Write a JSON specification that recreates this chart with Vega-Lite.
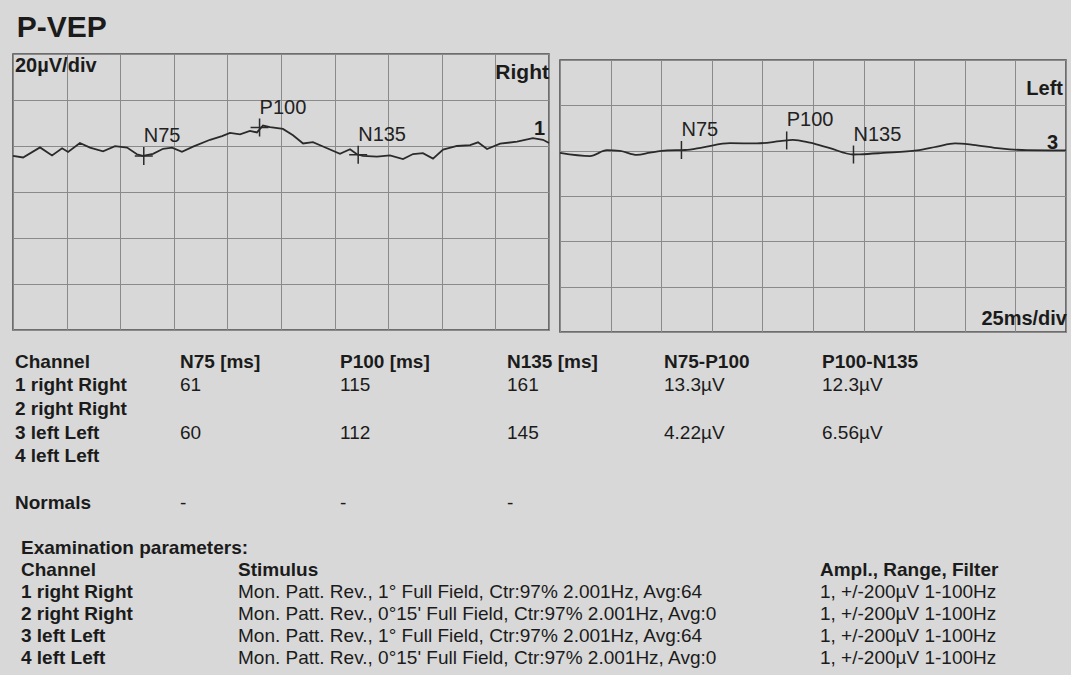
{
  "$schema": "https://vega.github.io/schema/vega-lite/v6.json",
  "background": "#d8d8d8",
  "padding": {"left": 8, "top": 13, "right": 0, "bottom": 0},
  "title": {"text": "P-VEP", "anchor": "start", "fontSize": 30, "fontWeight": "bold", "font": "Liberation Sans", "color": "#1b1b1b", "offset": 10, "dx": 8},
  "datasets": {
    "ch1": [
      {"t": 0, "v": -4.3}, {"t": 4.7, "v": -5.0}, {"t": 12.6, "v": -0.6}, {"t": 18.2, "v": -4.1}, {"t": 22.9, "v": -1.0},
      {"t": 25.7, "v": -2.6}, {"t": 31.2, "v": 1.3}, {"t": 35.9, "v": -0.7}, {"t": 42, "v": -2.3}, {"t": 47.6, "v": -0.1},
      {"t": 53.2, "v": -0.7}, {"t": 57.8, "v": -3.6}, {"t": 60.6, "v": -4.3}, {"t": 65.3, "v": -3.4}, {"t": 70, "v": -1.2},
      {"t": 74.2, "v": -0.7}, {"t": 78.8, "v": -2.5}, {"t": 84, "v": -0.3}, {"t": 91.9, "v": 2.7}, {"t": 97.5, "v": 4.3},
      {"t": 101.2, "v": 5.7}, {"t": 105.9, "v": 5.1}, {"t": 110.5, "v": 6.6}, {"t": 113.8, "v": 5.9}, {"t": 116.6, "v": 8.9},
      {"t": 119.9, "v": 8.2}, {"t": 125.9, "v": 7.4}, {"t": 130.6, "v": 4.7}, {"t": 135.3, "v": 1.1}, {"t": 139.9, "v": 1.7},
      {"t": 144.6, "v": -0.2}, {"t": 152.5, "v": -3.4}, {"t": 157.2, "v": -1.4}, {"t": 160.4, "v": -3.6}, {"t": 163.2, "v": -4.3},
      {"t": 169.8, "v": -4.6}, {"t": 175.8, "v": -4.1}, {"t": 181.9, "v": -5.7}, {"t": 186.6, "v": -3.5}, {"t": 191.2, "v": -3.1},
      {"t": 195.9, "v": -5.5}, {"t": 200.6, "v": -1.6}, {"t": 207.1, "v": 0}, {"t": 213.2, "v": 0.4}, {"t": 216.9, "v": 1.6},
      {"t": 221.1, "v": -1.3}, {"t": 227.2, "v": 1.0}, {"t": 235.1, "v": 1.9}, {"t": 242.5, "v": 3.4}, {"t": 247.2, "v": 2.7},
      {"t": 250, "v": 1.3}
    ],
    "ch3": [
      {"t": 0, "v": -1.0}, {"t": 14.8, "v": -2.4}, {"t": 23.2, "v": 0.2}, {"t": 29.6, "v": -0.1}, {"t": 38, "v": -1.9},
      {"t": 44.5, "v": -0.9}, {"t": 52.9, "v": 0.1}, {"t": 61.8, "v": 0.3}, {"t": 70.7, "v": 1.5}, {"t": 84, "v": 3.3},
      {"t": 97.3, "v": 3.2}, {"t": 108.7, "v": 4.2}, {"t": 115.1, "v": 4.8}, {"t": 123.5, "v": 3.5}, {"t": 133.4, "v": 1.1},
      {"t": 144.8, "v": -1.7}, {"t": 148.2, "v": -1.6}, {"t": 159.6, "v": -1.0}, {"t": 176.4, "v": 0.1}, {"t": 186.3, "v": 1.8},
      {"t": 195.2, "v": 3.2}, {"t": 204, "v": 2.6}, {"t": 217.4, "v": 1.0}, {"t": 230.7, "v": 0.2}, {"t": 248, "v": 0.1},
      {"t": 250, "v": 0.1}
    ],
    "peaks1": [
      {"t": 61, "v": -4.3, "peak": "N75"},
      {"t": 115, "v": 8.0, "peak": "P100"},
      {"t": 161, "v": -3.8, "peak": "N135"}
    ],
    "peaks3": [
      {"t": 60, "v": 0.3, "peak": "N75"},
      {"t": 112, "v": 4.5, "peak": "P100"},
      {"t": 145, "v": -1.7, "peak": "N135"}
    ],
    "results": [
      {"channel": "Channel", "n75": "N75 [ms]", "p100": "P100 [ms]", "n135": "N135 [ms]", "a1": "N75-P100", "a2": "P100-N135", "header": true},
      {"channel": "1 right Right", "n75": "61", "p100": "115", "n135": "161", "a1": "13.3µV", "a2": "12.3µV", "header": false},
      {"channel": "2 right Right", "n75": "", "p100": "", "n135": "", "a1": "", "a2": "", "header": false},
      {"channel": "3 left Left", "n75": "60", "p100": "112", "n135": "145", "a1": "4.22µV", "a2": "6.56µV", "header": false},
      {"channel": "4 left Left", "n75": "", "p100": "", "n135": "", "a1": "", "a2": "", "header": false},
      {"channel": "Normals", "n75": "-", "p100": "-", "n135": "-", "a1": "", "a2": "", "header": false}
    ],
    "params": [
      {"channel": "Examination parameters:", "stimulus": "", "ampl": "", "header": true},
      {"channel": "Channel", "stimulus": "Stimulus", "ampl": "Ampl., Range, Filter", "header": true},
      {"channel": "1 right Right", "stimulus": "Mon. Patt. Rev., 1° Full Field, Ctr:97% 2.001Hz, Avg:64", "ampl": "1, +/-200µV 1-100Hz", "header": false},
      {"channel": "2 right Right", "stimulus": "Mon. Patt. Rev., 0°15' Full Field, Ctr:97% 2.001Hz, Avg:0", "ampl": "1, +/-200µV 1-100Hz", "header": false},
      {"channel": "3 left Left", "stimulus": "Mon. Patt. Rev., 1° Full Field, Ctr:97% 2.001Hz, Avg:64", "ampl": "1, +/-200µV 1-100Hz", "header": false},
      {"channel": "4 left Left", "stimulus": "Mon. Patt. Rev., 0°15' Full Field, Ctr:97% 2.001Hz, Avg:0", "ampl": "1, +/-200µV 1-100Hz", "header": false}
    ]
  },
  "spacing": 18,
  "vconcat": [
    {
      "bounds": "flush",
      "spacing": 11,
      "hconcat": [
        {
          "width": 536,
          "height": 276,
          "view": {"stroke": "#4a4a4a", "strokeWidth": 1.5},
          "layer": [
            {"data": {"name": "ch1"}, "mark": {"type": "line", "color": "#2a2a2a", "strokeWidth": 1.8, "interpolate": "linear"},
             "encoding": {
               "x": {"field": "t", "type": "quantitative", "scale": {"domain": [0, 250], "nice": false, "zero": false},
                     "axis": {"values": [0, 25, 50, 75, 100, 125, 150, 175, 200, 225, 250], "grid": true, "gridColor": "#8a8a8a", "gridWidth": 1, "labels": false, "ticks": false, "tickSize": 0, "labelPadding": 0, "minExtent": 0, "offset": 0, "domain": false, "title": null}},
               "y": {"field": "v", "type": "quantitative", "scale": {"domain": [-80, 40], "nice": false, "zero": false},
                     "axis": {"values": [-80, -60, -40, -20, 0, 20, 40], "grid": true, "gridColor": "#8a8a8a", "gridWidth": 1, "labels": false, "ticks": false, "tickSize": 0, "labelPadding": 0, "minExtent": 0, "offset": 0, "domain": false, "title": null}}
             }},
            {"data": {"name": "peaks1"}, "mark": {"type": "point", "shape": "M-1,0L1,0M0,-1L0,1", "size": 324, "filled": false, "stroke": "#2a2a2a", "strokeWidth": 1.5, "opacity": 1},
             "encoding": {"x": {"field": "t", "type": "quantitative"}, "y": {"field": "v", "type": "quantitative"}}},
            {"data": {"name": "peaks1"}, "mark": {"type": "text", "align": "left", "baseline": "middle", "dy": -20, "fontSize": 20, "font": "Liberation Sans", "color": "#222222"},
             "encoding": {"x": {"field": "t", "type": "quantitative"}, "y": {"field": "v", "type": "quantitative"}, "text": {"field": "peak"}}},
            {"data": {"values": [{"label": "20µV/div"}]}, "mark": {"type": "text", "align": "left", "baseline": "middle", "dx": 2, "dy": 12, "fontSize": 20, "fontWeight": "bold", "font": "Liberation Sans", "color": "#1b1b1b"},
             "encoding": {"x": {"datum": 0, "type": "quantitative"}, "y": {"datum": 40, "type": "quantitative"}, "text": {"field": "label", "type": "nominal"}}},
            {"data": {"values": [{"label": "Right"}]}, "mark": {"type": "text", "align": "right", "baseline": "middle", "dx": 0, "dy": 19, "fontSize": 21, "fontWeight": "bold", "font": "Liberation Sans", "color": "#1b1b1b"},
             "encoding": {"x": {"datum": 250, "type": "quantitative"}, "y": {"datum": 40, "type": "quantitative"}, "text": {"field": "label", "type": "nominal"}}},
            {"data": {"values": [{"label": "1"}]}, "mark": {"type": "text", "align": "right", "baseline": "middle", "dx": -4, "fontSize": 20, "fontWeight": "bold", "font": "Liberation Sans", "color": "#1b1b1b"},
             "encoding": {"x": {"datum": 250, "type": "quantitative"}, "y": {"datum": 7.4, "type": "quantitative"}, "text": {"field": "label", "type": "nominal"}}}
          ]
        },
        {
          "bounds": "flush",
          "spacing": 5,
          "vconcat": [
            {"width": 506, "height": 1, "data": {"values": []}, "mark": "point"},
            {
              "width": 506,
              "height": 272,
              "view": {"stroke": "#4a4a4a", "strokeWidth": 1.5},
              "layer": [
                {"data": {"name": "ch3"}, "mark": {"type": "line", "color": "#2a2a2a", "strokeWidth": 1.8, "interpolate": "monotone"},
                 "encoding": {
                   "x": {"field": "t", "type": "quantitative", "scale": {"domain": [0, 250], "nice": false, "zero": false},
                         "axis": {"values": [0, 25, 50, 75, 100, 125, 150, 175, 200, 225, 250], "grid": true, "gridColor": "#8a8a8a", "gridWidth": 1, "labels": false, "ticks": false, "tickSize": 0, "labelPadding": 0, "minExtent": 0, "offset": 0, "domain": false, "title": null}},
                   "y": {"field": "v", "type": "quantitative", "scale": {"domain": [-80, 40], "nice": false, "zero": false},
                         "axis": {"values": [-80, -60, -40, -20, 0, 20, 40], "grid": true, "gridColor": "#8a8a8a", "gridWidth": 1, "labels": false, "ticks": false, "tickSize": 0, "labelPadding": 0, "minExtent": 0, "offset": 0, "domain": false, "title": null}}
                 }},
                {"data": {"name": "peaks3"}, "mark": {"type": "point", "shape": "M0,-1L0,1", "size": 324, "filled": false, "stroke": "#2a2a2a", "strokeWidth": 1.5, "opacity": 1},
                 "encoding": {"x": {"field": "t", "type": "quantitative"}, "y": {"field": "v", "type": "quantitative"}}},
                {"data": {"name": "peaks3"}, "mark": {"type": "text", "align": "left", "baseline": "middle", "dy": -20, "fontSize": 20, "font": "Liberation Sans", "color": "#222222"},
                 "encoding": {"x": {"field": "t", "type": "quantitative"}, "y": {"field": "v", "type": "quantitative"}, "text": {"field": "peak"}}},
                {"data": {"values": [{"label": "Left"}]}, "mark": {"type": "text", "align": "right", "baseline": "middle", "dx": -3, "dy": 29, "fontSize": 20, "fontWeight": "bold", "font": "Liberation Sans", "color": "#1b1b1b"},
                 "encoding": {"x": {"datum": 250, "type": "quantitative"}, "y": {"datum": 40, "type": "quantitative"}, "text": {"field": "label", "type": "nominal"}}},
                {"data": {"values": [{"label": "3"}]}, "mark": {"type": "text", "align": "right", "baseline": "middle", "dx": -8, "fontSize": 20, "fontWeight": "bold", "font": "Liberation Sans", "color": "#1b1b1b"},
                 "encoding": {"x": {"datum": 250, "type": "quantitative"}, "y": {"datum": 3.5, "type": "quantitative"}, "text": {"field": "label", "type": "nominal"}}},
                {"data": {"values": [{"label": "25ms/div"}]}, "mark": {"type": "text", "align": "right", "baseline": "middle", "dx": 1, "dy": -13, "fontSize": 20, "fontWeight": "bold", "font": "Liberation Sans", "color": "#1b1b1b"},
                 "encoding": {"x": {"datum": 250, "type": "quantitative"}, "y": {"datum": -80, "type": "quantitative"}, "text": {"field": "label", "type": "nominal"}}}
              ]
            }
          ]
        }
      ]
    },
    {
      "bounds": "flush",
      "spacing": 0,
      "hconcat": [
        {
          "width": 167, "height": 163,
          "data": {"name": "results"},
          "mark": {"type": "text", "align": "left", "baseline": "middle", "dx": 2, "fontSize": 19, "fontWeight": "bold", "font": "Liberation Sans", "color": "#1b1b1b"},
          "encoding": {
            "x": {"datum": 0, "type": "quantitative", "scale": {"domain": [0, 1]}, "axis": null},
            "y": {"field": "channel", "type": "nominal", "scale": {"type": "point", "domain": ["Channel", "1 right Right", "2 right Right", "3 left Left", "4 left Left", " ", "Normals"], "padding": 0.468}, "axis": null},
            "text": {"field": "channel"}
          }
        },
        {
          "width": 160, "height": 163,
          "data": {"name": "results"},
          "encoding": {
            "x": {"datum": 0, "type": "quantitative", "scale": {"domain": [0, 1]}, "axis": null},
            "y": {"field": "channel", "type": "nominal", "scale": {"type": "point", "domain": ["Channel", "1 right Right", "2 right Right", "3 left Left", "4 left Left", " ", "Normals"], "padding": 0.468}, "axis": null},
            "text": {"field": "n75"}
          },
          "layer": [
            {"transform": [{"filter": "datum.header"}], "mark": {"type": "text", "align": "left", "baseline": "middle", "fontSize": 19, "fontWeight": "bold", "font": "Liberation Sans", "color": "#1b1b1b"}},
            {"transform": [{"filter": "!datum.header"}], "mark": {"type": "text", "align": "left", "baseline": "middle", "fontSize": 19, "font": "Liberation Sans", "color": "#1b1b1b"}}
          ]
        },
        {
          "width": 167, "height": 163,
          "data": {"name": "results"},
          "encoding": {
            "x": {"datum": 0, "type": "quantitative", "scale": {"domain": [0, 1]}, "axis": null},
            "y": {"field": "channel", "type": "nominal", "scale": {"type": "point", "domain": ["Channel", "1 right Right", "2 right Right", "3 left Left", "4 left Left", " ", "Normals"], "padding": 0.468}, "axis": null},
            "text": {"field": "p100"}
          },
          "layer": [
            {"transform": [{"filter": "datum.header"}], "mark": {"type": "text", "align": "left", "baseline": "middle", "fontSize": 19, "fontWeight": "bold", "font": "Liberation Sans", "color": "#1b1b1b"}},
            {"transform": [{"filter": "!datum.header"}], "mark": {"type": "text", "align": "left", "baseline": "middle", "fontSize": 19, "font": "Liberation Sans", "color": "#1b1b1b"}}
          ]
        },
        {
          "width": 157, "height": 163,
          "data": {"name": "results"},
          "encoding": {
            "x": {"datum": 0, "type": "quantitative", "scale": {"domain": [0, 1]}, "axis": null},
            "y": {"field": "channel", "type": "nominal", "scale": {"type": "point", "domain": ["Channel", "1 right Right", "2 right Right", "3 left Left", "4 left Left", " ", "Normals"], "padding": 0.468}, "axis": null},
            "text": {"field": "n135"}
          },
          "layer": [
            {"transform": [{"filter": "datum.header"}], "mark": {"type": "text", "align": "left", "baseline": "middle", "fontSize": 19, "fontWeight": "bold", "font": "Liberation Sans", "color": "#1b1b1b"}},
            {"transform": [{"filter": "!datum.header"}], "mark": {"type": "text", "align": "left", "baseline": "middle", "fontSize": 19, "font": "Liberation Sans", "color": "#1b1b1b"}}
          ]
        },
        {
          "width": 158, "height": 163,
          "data": {"name": "results"},
          "encoding": {
            "x": {"datum": 0, "type": "quantitative", "scale": {"domain": [0, 1]}, "axis": null},
            "y": {"field": "channel", "type": "nominal", "scale": {"type": "point", "domain": ["Channel", "1 right Right", "2 right Right", "3 left Left", "4 left Left", " ", "Normals"], "padding": 0.468}, "axis": null},
            "text": {"field": "a1"}
          },
          "layer": [
            {"transform": [{"filter": "datum.header"}], "mark": {"type": "text", "align": "left", "baseline": "middle", "fontSize": 19, "fontWeight": "bold", "font": "Liberation Sans", "color": "#1b1b1b"}},
            {"transform": [{"filter": "!datum.header"}], "mark": {"type": "text", "align": "left", "baseline": "middle", "fontSize": 19, "font": "Liberation Sans", "color": "#1b1b1b"}}
          ]
        },
        {
          "width": 178, "height": 163,
          "data": {"name": "results"},
          "encoding": {
            "x": {"datum": 0, "type": "quantitative", "scale": {"domain": [0, 1]}, "axis": null},
            "y": {"field": "channel", "type": "nominal", "scale": {"type": "point", "domain": ["Channel", "1 right Right", "2 right Right", "3 left Left", "4 left Left", " ", "Normals"], "padding": 0.468}, "axis": null},
            "text": {"field": "a2"}
          },
          "layer": [
            {"transform": [{"filter": "datum.header"}], "mark": {"type": "text", "align": "left", "baseline": "middle", "fontSize": 19, "fontWeight": "bold", "font": "Liberation Sans", "color": "#1b1b1b"}},
            {"transform": [{"filter": "!datum.header"}], "mark": {"type": "text", "align": "left", "baseline": "middle", "fontSize": 19, "font": "Liberation Sans", "color": "#1b1b1b"}}
          ]
        }
      ]
    },
    {
      "bounds": "flush",
      "spacing": 0,
      "hconcat": [
        {
          "width": 225, "height": 142.5,
          "data": {"name": "params"},
          "mark": {"type": "text", "align": "left", "baseline": "middle", "dx": 8, "fontSize": 19, "fontWeight": "bold", "font": "Liberation Sans", "color": "#1b1b1b"},
          "encoding": {
            "x": {"datum": 0, "type": "quantitative", "scale": {"domain": [0, 1]}, "axis": null},
            "y": {"field": "channel", "type": "nominal", "scale": {"type": "point", "domain": ["Examination parameters:", "Channel", "1 right Right", "2 right Right", "3 left Left", "4 left Left"], "padding": 0.753}, "axis": null},
            "text": {"field": "channel"}
          }
        },
        {
          "width": 582, "height": 142.5,
          "data": {"name": "params"},
          "encoding": {
            "x": {"datum": 0, "type": "quantitative", "scale": {"domain": [0, 1]}, "axis": null},
            "y": {"field": "channel", "type": "nominal", "scale": {"type": "point", "domain": ["Examination parameters:", "Channel", "1 right Right", "2 right Right", "3 left Left", "4 left Left"], "padding": 0.753}, "axis": null},
            "text": {"field": "stimulus"}
          },
          "layer": [
            {"transform": [{"filter": "datum.header"}], "mark": {"type": "text", "align": "left", "baseline": "middle", "fontSize": 19, "fontWeight": "bold", "font": "Liberation Sans", "color": "#1b1b1b"}},
            {"transform": [{"filter": "!datum.header"}], "mark": {"type": "text", "align": "left", "baseline": "middle", "fontSize": 19, "font": "Liberation Sans", "color": "#1b1b1b"}}
          ]
        },
        {
          "width": 240, "height": 142.5,
          "data": {"name": "params"},
          "encoding": {
            "x": {"datum": 0, "type": "quantitative", "scale": {"domain": [0, 1]}, "axis": null},
            "y": {"field": "channel", "type": "nominal", "scale": {"type": "point", "domain": ["Examination parameters:", "Channel", "1 right Right", "2 right Right", "3 left Left", "4 left Left"], "padding": 0.753}, "axis": null},
            "text": {"field": "ampl"}
          },
          "layer": [
            {"transform": [{"filter": "datum.header"}], "mark": {"type": "text", "align": "left", "baseline": "middle", "fontSize": 19, "fontWeight": "bold", "font": "Liberation Sans", "color": "#1b1b1b"}},
            {"transform": [{"filter": "!datum.header"}], "mark": {"type": "text", "align": "left", "baseline": "middle", "fontSize": 19, "font": "Liberation Sans", "color": "#1b1b1b"}}
          ]
        }
      ]
    }
  ],
  "config": {
    "view": {"stroke": null},
    "font": "Liberation Sans"
  }
}
